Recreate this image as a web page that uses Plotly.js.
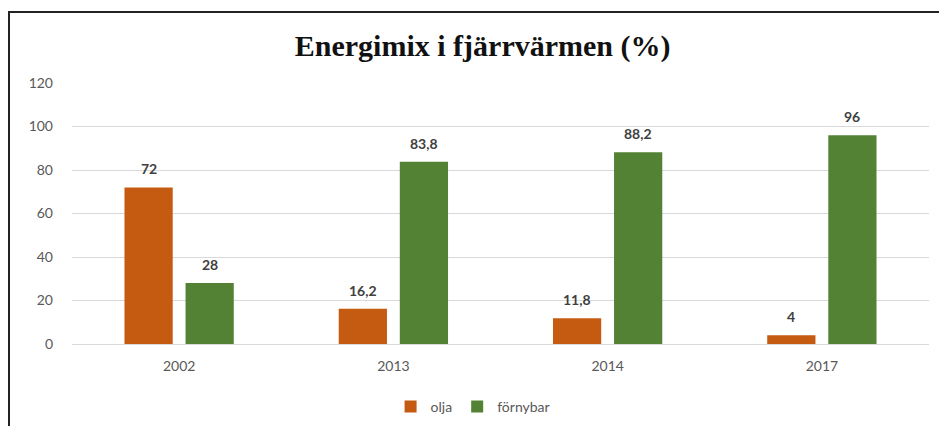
<!DOCTYPE html>
<html>
<head>
<meta charset="utf-8">
<script src="https://cdn.plot.ly/plotly-3.0.1.min.js"></script>
<style>
  html, body { margin: 0; padding: 0; background: #fff; }
  #wrap { position: relative; width: 939px; height: 426px; overflow: hidden; }
  #chart { position: absolute; left: 0; top: 0; width: 939px; height: 426px; }
  #frame { position: absolute; left: 8px; top: 11px; width: 960px; height: 440px;
           border-top: 2px solid #222; border-left: 2px solid #222; pointer-events: none; }
</style>
</head>
<body>
<div id="wrap">
  <div id="chart"></div>
  <div id="frame"></div>
</div>
<script>
const categories = ['2002', '2013', '2014', '2017'];
const oljaValues = [72, 16.2, 11.8, 4];
const fornybarValues = [28, 83.8, 88.2, 96];
const oljaLabels = ['72', '16,2', '11,8', '4'];
const fornybarLabels = ['28', '83,8', '88,2', '96'];
const yTicks = [0, 20, 40, 60, 80, 100, 120];

const sans = 'Lato, "Open Sans", sans-serif';
const labelFont = { family: sans, size: 14, color: '#404040', weight: 'bold' };

const traces = [
  {
    type: 'bar', name: 'olja', x: categories, y: oljaValues,
    marker: { color: '#C55A11' }, hoverinfo: 'skip'
  },
  {
    type: 'bar', name: 'förnybar', x: categories, y: fornybarValues,
    marker: { color: '#548235' }, hoverinfo: 'skip'
  }
];

const plotLeft = 72, plotRight = 10, W = 939;
const bargap = 0.43;
const catWidth = (W - plotLeft - plotRight) / categories.length;
const slot = catWidth * (1 - bargap) / 2;

const annotations = [];
categories.forEach((c, i) => {
  annotations.push({ xref: 'x', yref: 'y', x: i, y: oljaValues[i], text: oljaLabels[i], showarrow: false,
    xanchor: 'center', yanchor: 'bottom', xshift: -slot / 2, yshift: 8, font: labelFont });
  annotations.push({ xref: 'x', yref: 'y', x: i, y: fornybarValues[i], text: fornybarLabels[i], showarrow: false,
    xanchor: 'center', yanchor: 'bottom', xshift: slot / 2, yshift: 8, font: labelFont });
});

const layout = {
  width: 939, height: 426,
  margin: { l: plotLeft, r: plotRight, t: 83, b: 82 },
  paper_bgcolor: '#fff', plot_bgcolor: '#fff',
  barmode: 'group', bargap: bargap, bargroupgap: 0.21,
  title: {
    text: '<b>Energimix i fjärrvärmen (%)</b>',
    font: { family: '"Liberation Serif", "Times New Roman", serif', size: 30, color: '#111' },
    xref: 'container', x: 0.514, xanchor: 'center',
    yref: 'container', y: 0.893, yanchor: 'middle'
  },
  xaxis: {
    type: 'category', categoryarray: categories, range: [-0.5, categories.length - 0.5],
    showgrid: false, zeroline: false, showline: false,
    ticks: '', ticklen: 0, ticklabelstandoff: 12,
    tickfont: { family: sans, size: 14, color: '#595959' }
  },
  yaxis: {
    range: [0, 120], tickvals: yTicks, ticktext: yTicks.map(String),
    showgrid: true, gridcolor: '#d9d9d9', gridwidth: 1,
    zeroline: true, zerolinecolor: '#d9d9d9', zerolinewidth: 1,
    showline: false, ticks: '', ticklabelstandoff: 18,
    tickfont: { family: sans, size: 14, color: '#595959' }
  },
  annotations: annotations,
  showlegend: true,
  legend: {
    orientation: 'h', xref: 'paper', x: 0.468, xanchor: 'center',
    yref: 'container', y: 0.045, yanchor: 'middle',
    font: { family: sans, size: 14, color: '#595959' },
    itemwidth: 30, tracegroupgap: 0
  }
};

Plotly.newPlot('chart', traces, layout, { displayModeBar: false, staticPlot: true });
</script>
</body>
</html>
